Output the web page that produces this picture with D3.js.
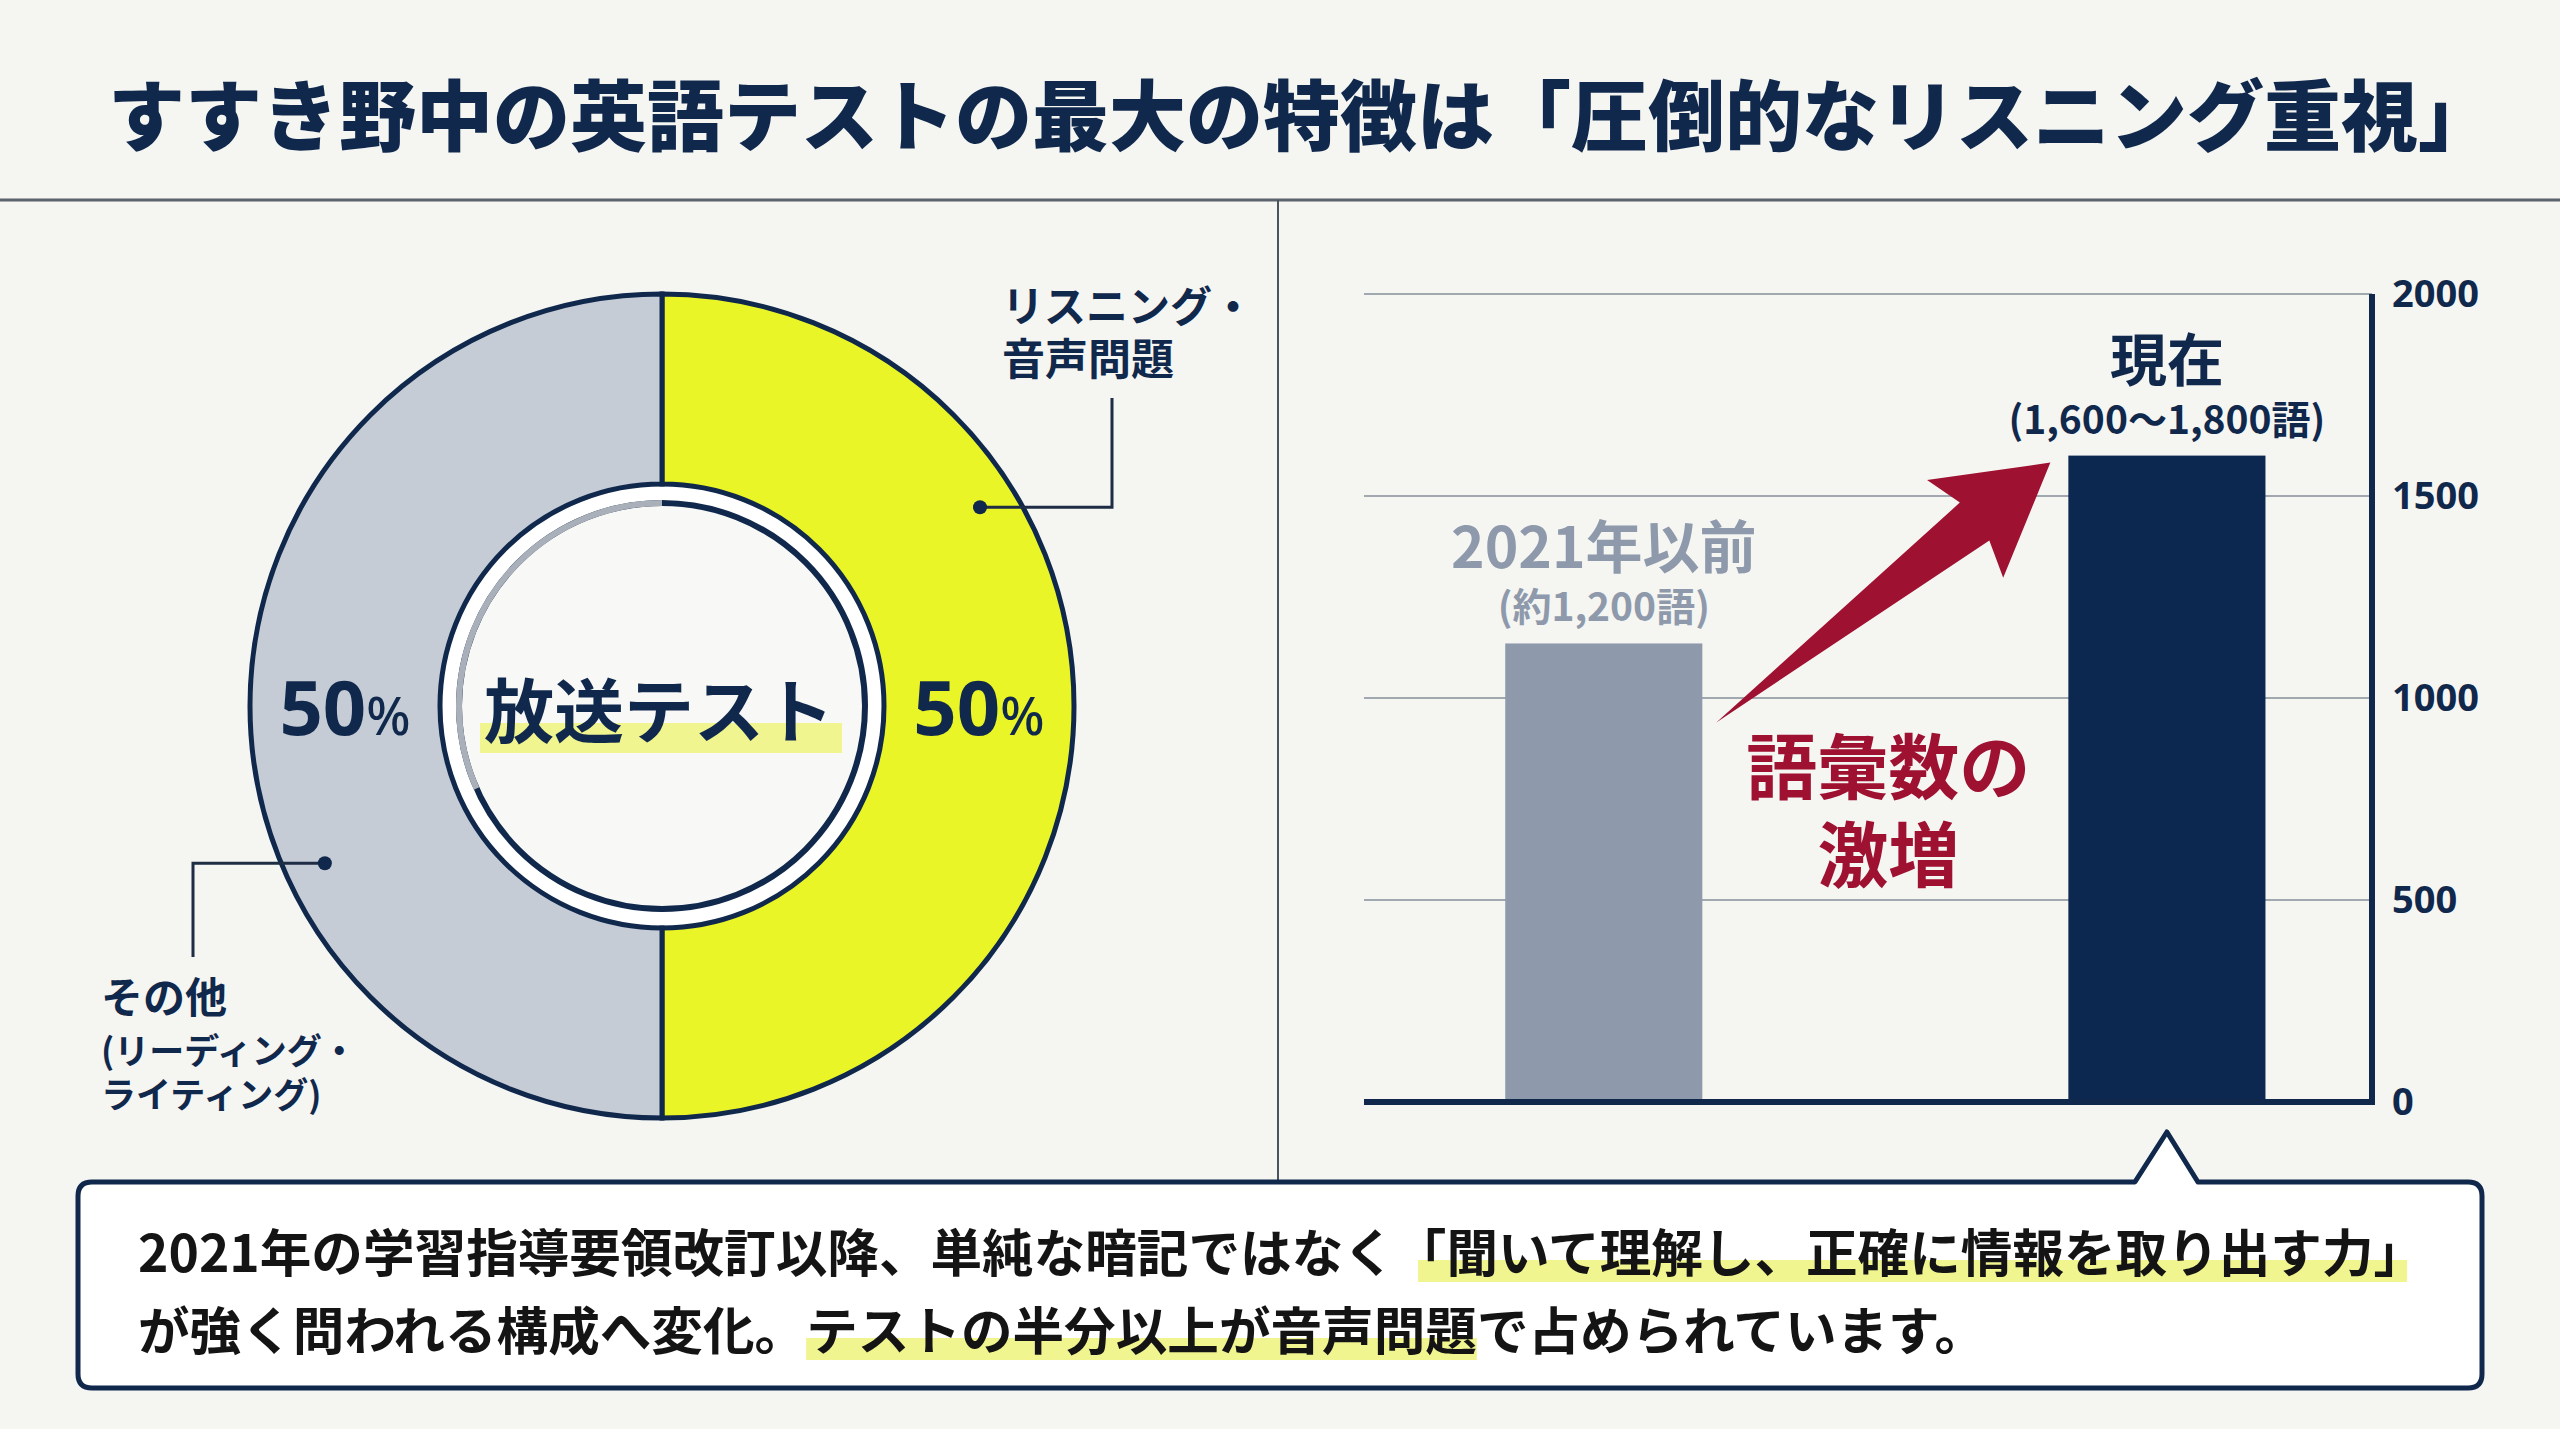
<!DOCTYPE html>
<meta charset="utf-8">
<style>
body { margin: 0; background: #f5f5f2; }
svg { display: block; font-family: "Noto Sans CJK JP", "Noto Sans", sans-serif; }
.tick text { font-family: "Noto Sans", sans-serif; font-weight: 700; font-size: 38px; fill: #10284c; }
</style>
<svg width="2560" height="1429"></svg>
<script src="https://cdn.jsdelivr.net/npm/d3@7"></script>
<script>

// data
var donutLabels = ["リスニング・音声問題", "その他（リーディング・ライティング）"];
var donutValues = [50, 50];
var barCategories = ["2021年以前", "現在"];
var barValues = [1135, 1600];
var barNotes = ["(約1,200語)", "(1,600〜1,800語)"];
var yTicks = [0, 500, 1000, 1500, 2000];

var navy = "#10284c",
    red = "#9e1131",
    hlColor = "#f1f590";

var svg = d3.select("svg");

svg.append("rect").attr("width", 2560).attr("height", 1429).attr("fill", "#f5f5f2");

// header
svg.append("text")
    .attr("x", 108).attr("y", 111)
    .attr("dominant-baseline", "central")
    .attr("font-size", 77).attr("font-weight", 900)
    .attr("fill", navy)
    .text("すすき野中の英語テストの最大の特徴は「圧倒的なリスニング重視」");

svg.append("line")
    .attr("x1", 0).attr("x2", 2560).attr("y1", 200).attr("y2", 200)
    .attr("stroke", "#5b636d").attr("stroke-width", 3);

svg.append("line")
    .attr("x1", 1278).attr("x2", 1278).attr("y1", 200).attr("y2", 1182)
    .attr("stroke", "#4a535e").attr("stroke-width", 2);

// donut
var cx = 662, cy = 706, rOut = 412, rIn = 222;
var pie = d3.pie().sort(null)(donutValues);
var arc = d3.arc().innerRadius(rIn).outerRadius(rOut);
var donut = svg.append("g").attr("transform", "translate(" + cx + "," + cy + ")");

donut.append("circle").attr("r", rIn).attr("fill", "#ffffff");

donut.selectAll("path.slice")
  .data(pie)
  .enter().append("path")
    .attr("class", "slice")
    .attr("d", arc)
    .attr("fill", function(d, i) { return ["#e9f526", "#c5ccd6"][i]; })
    .attr("stroke", navy)
    .attr("stroke-width", 5);

donut.append("circle").attr("r", 203)
    .attr("fill", "#f8f8f6").attr("stroke", navy).attr("stroke-width", 6);

donut.append("path")
    .attr("d", d3.arc().innerRadius(200).outerRadius(206)
      .startAngle(246 * Math.PI / 180).endAngle(2 * Math.PI)())
    .attr("fill", "#a9b0b9");

// center label
donut.append("rect")
    .attr("x", -182).attr("y", 17).attr("width", 362).attr("height", 30)
    .attr("fill", hlColor);
donut.append("text")
    .attr("x", -3).attr("y", 1)
    .attr("text-anchor", "middle").attr("dominant-baseline", "central")
    .attr("font-size", 70).attr("font-weight", 700).attr("fill", navy)
    .text("放送テスト");

// percent labels
donut.selectAll("text.pct")
  .data(pie)
  .enter().append("text")
    .attr("class", "pct")
    .attr("x", function(d) { return arc.centroid(d)[0]; })
    .attr("y", function(d) { return arc.centroid(d)[1] + 29; })
    .attr("text-anchor", "middle")
    .attr("fill", navy)
    .each(function(d) {
      var t = d3.select(this);
      t.append("tspan").attr("font-family", "Noto Sans").attr("font-weight", 700).attr("font-size", 76).text(d.data);
      t.append("tspan").attr("font-family", "Noto Sans").attr("font-weight", 500).attr("font-size", 52).text("%");
    });

// leader callouts
var leaders = [
  { angle: 58, r: 375, elbowX: 1112, endY: 398 },
  { angle: 245, r: 372, elbowX: 193, endY: 957 }
];
leaders.forEach(function(l) {
  var a = l.angle * Math.PI / 180,
      px = cx + l.r * Math.sin(a),
      py = cy - l.r * Math.cos(a);
  svg.append("path")
      .attr("d", "M" + px + "," + py + "H" + l.elbowX + "V" + l.endY)
      .attr("fill", "none").attr("stroke", "#1e2d44").attr("stroke-width", 3);
  svg.append("circle").attr("cx", px).attr("cy", py).attr("r", 7).attr("fill", navy);
});

var lab1 = svg.append("text").attr("fill", navy).attr("font-weight", 700);
lab1.append("tspan").attr("x", 1002).attr("y", 322).attr("font-size", 42).text("リスニング・");
lab1.append("tspan").attr("x", 1002).attr("y", 375).attr("font-size", 43).text("音声問題");

var lab2 = svg.append("text").attr("fill", navy).attr("font-weight", 700);
lab2.append("tspan").attr("x", 101).attr("y", 1013).attr("font-size", 42).text("その他");
lab2.append("tspan").attr("x", 101).attr("y", 1064).attr("font-size", 35).text("(リーディング・");
lab2.append("tspan").attr("x", 101).attr("y", 1108).attr("font-size", 35).text("ライティング)");

// bar chart
var x = d3.scaleBand()
    .domain(barCategories)
    .range([1364, 2372])
    .paddingInner(0.65)
    .paddingOuter(0.22)
    .align(0.57);

var y = d3.scaleLinear()
    .domain([0, 2000])
    .range([1102, 294]);

svg.append("g")
  .selectAll("line")
  .data(yTicks.filter(function(d) { return d > 0; }))
  .enter().append("line")
    .attr("x1", 1364).attr("x2", 2372)
    .attr("y1", function(d) { return y(d); })
    .attr("y2", function(d) { return y(d); })
    .attr("stroke", "#a2a8b0").attr("stroke-width", 2);

svg.selectAll("rect.bar")
  .data(barValues)
  .enter().append("rect")
    .attr("class", "bar")
    .attr("x", function(d, i) { return x(barCategories[i]); })
    .attr("y", function(d) { return y(d); })
    .attr("width", x.bandwidth())
    .attr("height", function(d) { return y(0) - y(d); })
    .attr("fill", function(d, i) { return ["#8e9aab", "#0c2850"][i]; });

svg.append("line")
    .attr("x1", 1364).attr("x2", 2375).attr("y1", y(0)).attr("y2", y(0))
    .attr("stroke", navy).attr("stroke-width", 6);
svg.append("line")
    .attr("x1", 2372).attr("x2", 2372).attr("y1", y(2000)).attr("y2", y(0) + 3)
    .attr("stroke", navy).attr("stroke-width", 6);

var axis = svg.append("g")
    .attr("transform", "translate(2372,0)")
    .call(d3.axisRight(y).tickValues(yTicks).tickSize(0).tickPadding(20).tickFormat(d3.format("d")));
axis.select(".domain").remove();

var barColors = ["#8e9aab", navy];
barCategories.forEach(function(c, i) {
  var bx = x(c) + x.bandwidth() / 2,
      top = y(barValues[i]);
  svg.append("text")
      .attr("x", bx).attr("y", top - 100)
      .attr("text-anchor", "middle").attr("dominant-baseline", "central")
      .attr("font-size", 57).attr("font-weight", 700).attr("fill", barColors[i])
      .text(c);
  svg.append("text")
      .attr("x", bx).attr("y", top - 39)
      .attr("text-anchor", "middle").attr("dominant-baseline", "central")
      .attr("font-size", 39).attr("font-weight", 700).attr("fill", barColors[i])
      .text(barNotes[i]);
});

// red arrow from bar 1 to bar 2
var tail = [x(barCategories[0]) + x.bandwidth() + 14, y(barValues[0]) + 79],
    tip = [x(barCategories[1]) - 18, y(barValues[1]) + 7];
var dx = tip[0] - tail[0], dy = tip[1] - tail[1], len = Math.sqrt(dx * dx + dy * dy);
var ux = dx / len, uy = dy / len, nx = -uy, ny = ux;
function pt(back, side) {
  return [tip[0] - ux * back + nx * side, tip[1] - uy * back + ny * side];
}
var arrowPts = [tail, pt(96, -24), pt(108, -62), tip, pt(108, 62), pt(96, 24)];
svg.append("path")
    .attr("d", d3.line()(arrowPts) + "Z")
    .attr("fill", red);

var midX = (x(barCategories[0]) + x.bandwidth() + x(barCategories[1])) / 2;
var burst = svg.append("g").attr("fill", red).attr("font-weight", 700).attr("font-size", 71)
    .attr("text-anchor", "middle");
burst.append("text").attr("x", midX + 3).attr("y", 762).attr("dominant-baseline", "central").text("語彙数の");
burst.append("text").attr("x", midX + 3).attr("y", 850).attr("dominant-baseline", "central").text("激増");

// bottom callout box
var bx0 = 78, by0 = 1182, bx1 = 2482, by1 = 1388, br = 14;
var apexX = x(barCategories[1]) + x.bandwidth() / 2;
var boxPath = "M" + (bx0 + br) + "," + by0 +
  "H" + (apexX - 32) + "L" + apexX + "," + 1132 + "L" + (apexX + 31) + "," + by0 +
  "H" + (bx1 - br) + "Q" + bx1 + "," + by0 + " " + bx1 + "," + (by0 + br) +
  "V" + (by1 - br) + "Q" + bx1 + "," + by1 + " " + (bx1 - br) + "," + by1 +
  "H" + (bx0 + br) + "Q" + bx0 + "," + by1 + " " + bx0 + "," + (by1 - br) +
  "V" + (by0 + br) + "Q" + bx0 + "," + by0 + " " + (bx0 + br) + "," + by0 + "Z";
svg.append("path").attr("d", boxPath)
    .attr("fill", "#ffffff").attr("stroke", navy).attr("stroke-width", 5)
    .attr("stroke-linejoin", "round");

var lines = [
  { y: 1249, parts: [["2021年の学習指導要領改訂以降、単純な暗記ではなく", false], ["「聞いて理解し、正確に情報を取り出す力」", true]] },
  { y: 1327, parts: [["が強く問われる構成へ変化。", false], ["テストの半分以上が音声問題", true], ["で占められています。", false]] }
];
var fs = 51.6;
var hlLayer = svg.append("g");
lines.forEach(function(ln) {
  var t = svg.append("text")
      .attr("x", 138).attr("y", ln.y)
      .attr("dominant-baseline", "central")
      .attr("font-size", fs).attr("font-weight", 700).attr("fill", "#141414");
  var cur = 138;
  ln.parts.forEach(function(p) {
    var s = t.append("tspan").text(p[0]);
    var w = s.node().getComputedTextLength();
    if (p[1]) {
      var x0 = cur, x1 = cur + w;
      if (p[0].charAt(0) === "「") x0 += fs * 0.45;
      if (p[0].charAt(p[0].length - 1) === "」") x1 -= fs * 0.35;
      hlLayer.append("rect")
          .attr("x", x0).attr("y", ln.y + 11)
          .attr("width", x1 - x0).attr("height", 22)
          .attr("fill", hlColor);
    }
    cur += w;
  });
});

</script>
